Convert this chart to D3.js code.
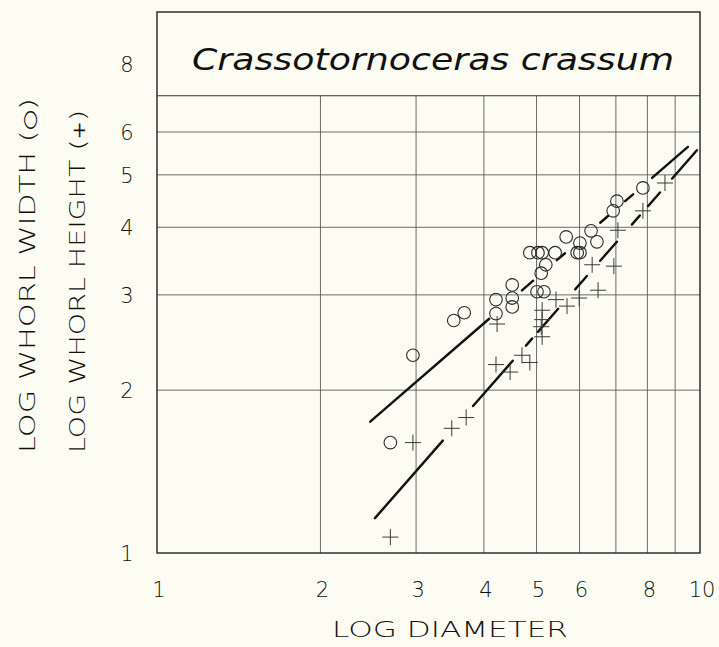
<!DOCTYPE html>
<html>
<head>
<meta charset="utf-8">
<script src="https://cdn.jsdelivr.net/npm/d3@7"></script>
<style>
  html, body { margin: 0; padding: 0; background: #fcfcf3; }
  svg { display: block; }
  text { font-family: "DejaVu Sans", sans-serif; fill: #111; }
  .thin { font-weight: 200; }
</style>
</head>
<body>
<svg id="chart" width="719" height="647"></svg>
<script>
// whorl width (circles) vs diameter
const widthPts = [
    [2.69, 1.60], [2.96, 2.32], [3.52, 2.69], [3.68, 2.78],
    [4.21, 2.94], [4.21, 2.77], [4.51, 3.13], [4.51, 2.96], [4.51, 2.85],
    [4.86, 3.59], [5.03, 3.59], [5.12, 3.59], [5.41, 3.59],
    [5.20, 3.41], [5.10, 3.29], [5.01, 3.04], [5.16, 3.04],
    [5.67, 3.84], [5.94, 3.59], [6.01, 3.59], [6.01, 3.74],
    [6.30, 3.94], [6.46, 3.76], [6.92, 4.29], [7.03, 4.47], [7.85, 4.73]
];
// whorl height (plus signs) vs diameter
const heightPts = [
    [2.69, 1.07], [2.96, 1.60], [3.49, 1.70], [3.71, 1.78],
    [4.21, 2.23], [4.47, 2.16], [4.70, 2.32], [4.86, 2.25], [4.23, 2.65],
    [5.12, 2.81], [5.12, 2.70], [5.10, 2.62], [5.12, 2.51],
    [5.43, 2.94], [5.69, 2.86], [5.99, 2.96], [6.49, 3.06],
    [6.33, 3.41], [6.94, 3.39], [7.06, 3.95], [7.85, 4.29], [8.62, 4.83]
];

// fitted lines, log10(y) = a + b*log10(d)
const widthFit = { a: -0.098, b: 0.868 };
const heightFit = { a: -0.396, b: 1.147 };
// the drawn pieces of each line (diameter ranges), the dashes are uneven by hand
const widthSegs = [[2.47, 4.09], [4.70, 4.93], [5.45, 5.64], [6.55, 6.77], [7.28, 7.53], [8.16, 9.50]];
const heightSegs = [[2.52, 3.36], [3.82, 4.52], [4.78, 4.91], [5.03, 5.48], [5.89, 6.19],
    [6.55, 7.03], [7.49, 7.75], [8.02, 8.44], [8.88, 9.87]];

const xTicks = [1, 2, 3, 4, 5, 6, 8, 10];
const yTicks = [1, 2, 3, 4, 5, 6, 8];
const xGrid = [2, 3, 4, 5, 6, 7, 8, 9];
const yGrid = [2, 3, 4, 5, 6];
const titleFloor = 7; // the name box covers 7..10 on the y axis

const title = 'Crassotornoceras crassum';
const xTitle = 'LOG DIAMETER';
// [words, symbol in brackets]
const yTitles = [['LOG WHORL WIDTH ', '\u25CB'], ['LOG WHORL HEIGHT ', '+']];

let svg = d3.select('#chart');

let x = d3.scaleLog().domain([1, 10]).range([157, 700]);
let y = d3.scaleLog().domain([1, 10]).range([553, 12]);

// grid
let grid = svg.append('g').attr('class', 'grid')
    .attr('stroke', '#5a5a5a').attr('stroke-width', 0.9);
grid.selectAll('line.v').data(xGrid).enter()
    .append('line').attr('class', 'v')
    .attr('x1', d => x(d)).attr('x2', d => x(d))
    .attr('y1', y(1)).attr('y2', y(titleFloor));
grid.selectAll('line.h').data(yGrid).enter()
    .append('line').attr('class', 'h')
    .attr('x1', x(1)).attr('x2', x(10))
    .attr('y1', d => y(d)).attr('y2', d => y(d));

// frame and the name box line
svg.append('rect')
    .attr('x', x(1)).attr('y', y(10))
    .attr('width', x(10) - x(1)).attr('height', y(1) - y(10))
    .attr('fill', 'none').attr('stroke', '#222').attr('stroke-width', 1.4);
svg.append('line')
    .attr('x1', x(1)).attr('x2', x(10))
    .attr('y1', y(titleFloor)).attr('y2', y(titleFloor))
    .attr('stroke', '#333').attr('stroke-width', 1.1);

svg.append('text').attr('class', 'thin')
    .attr('x', 192).attr('y', 70)
    .attr('font-size', 30).attr('font-style', 'italic')
    .attr('textLength', 482).attr('lengthAdjust', 'spacingAndGlyphs')
    .text(title);

// fitted lines
let fitLine = function(fit, segs) {
    let f = d => Math.pow(10, fit.a + fit.b * Math.log10(d));
    svg.append('g').attr('stroke', '#111').attr('stroke-width', 2.4).attr('stroke-linecap', 'round')
        .selectAll('line').data(segs).enter()
        .append('line')
        .attr('x1', d => x(d[0])).attr('y1', d => y(f(d[0])))
        .attr('x2', d => x(d[1])).attr('y2', d => y(f(d[1])));
};
fitLine(widthFit, widthSegs);
fitLine(heightFit, heightSegs);

// markers
svg.append('g').attr('class', 'widths')
    .selectAll('circle').data(widthPts).enter()
    .append('circle')
    .attr('cx', d => x(d[0])).attr('cy', d => y(d[1]))
    .attr('r', 6.3)
    .attr('fill', 'none').attr('stroke', '#2a2a2a').attr('stroke-width', 1.1);

let arm = 8;
svg.append('g').attr('class', 'heights')
    .attr('stroke', '#3a3a3a').attr('stroke-width', 1)
    .selectAll('path').data(heightPts).enter()
    .append('path')
    .attr('fill', 'none')
    .attr('d', d => {
        let cx = x(d[0]), cy = y(d[1]);
        return 'M' + (cx - arm) + ',' + cy + 'H' + (cx + arm) + 'M' + cx + ',' + (cy - arm) + 'V' + (cy + arm);
    });

// tick labels
svg.append('g').selectAll('text').data(xTicks).enter()
    .append('text').attr('class', 'thin')
    .attr('x', d => x(d) + 2).attr('y', 597)
    .attr('text-anchor', 'middle').attr('font-size', 21)
    .text(d => d);
svg.append('g').selectAll('text').data(yTicks).enter()
    .append('text').attr('class', 'thin')
    .attr('x', 127).attr('y', d => y(d) + 8)
    .attr('text-anchor', 'middle').attr('font-size', 21)
    .text(d => d);

// axis titles
svg.append('text').attr('class', 'thin')
    .attr('x', 332).attr('y', 637)
    .attr('font-size', 22)
    .attr('textLength', 236).attr('lengthAdjust', 'spacingAndGlyphs')
    .text(xTitle);

let titleSpans = [355, 343];
let titleCols = [35, 85];
yTitles.forEach((t, i) => {
    let label = svg.append('text').attr('class', 'thin')
        .attr('transform', 'translate(' + titleCols[i] + ',453)rotate(-90)')
        .attr('font-size', 22)
        .attr('textLength', titleSpans[i]).attr('lengthAdjust', 'spacingAndGlyphs');
    label.append('tspan').text(t[0] + '(');
    label.append('tspan').attr('font-weight', 'normal').attr('font-size', 17).text(t[1]);
    label.append('tspan').text(')');
});
</script>
</body>
</html>
